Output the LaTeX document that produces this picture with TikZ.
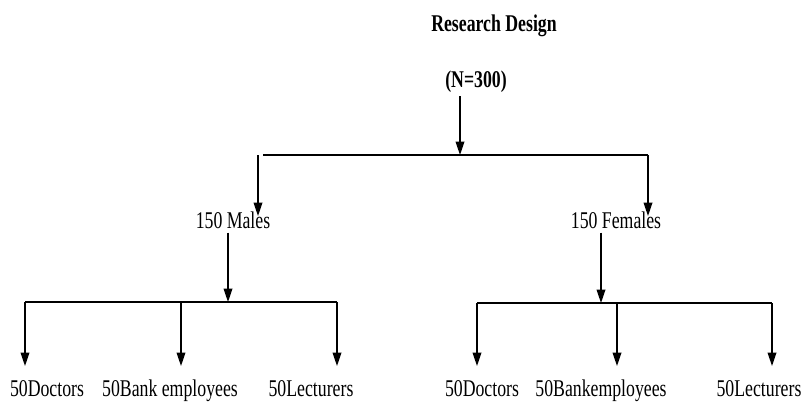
\documentclass[tikz,border=0pt]{standalone}
\usepackage{fontspec}
\setmainfont[FakeStretch=0.74]{Liberation Serif}
\usetikzlibrary{arrows.meta}
\tikzset{
  group/.style={font=\fontsize{18}{20}\selectfont, inner sep=3pt, anchor=base},
  heading/.style={group, font=\fontsize{18}{20}\selectfont\bfseries},
  arr/.style={-{Triangle[length=10pt,width=6.5pt]}, line width=1pt},
  bus/.style={line width=1pt}
}
\begin{document}
\begin{tikzpicture}[x=0.75pt, y=-0.75pt]
\useasboundingbox (0,0) rectangle (802,403);
% Titel und Gesamtstichprobe
\node[heading] (title) at (494,32) {Research Design};
\node[heading] (total) at (476,87) {(N=300)};
% erste Teilung
\coordinate (topL) at (258,155);
\coordinate (topM) at (460,155);
\coordinate (topR) at (648,155);
\draw[arr] (total.south -| topM) -- (topM);
\draw[bus] ([xshift=4pt]topL) -- (topR);
\node[group] (males) at (233,228) {150 Males};
\node[group] (females) at (616,228) {150 Females};
\coordinate (sexlevel) at (0,216);
\draw[arr] (topL) -- (topL |- sexlevel);
\draw[arr] (topR) -- (topR |- sexlevel);
% Männer
\coordinate (mbus) at (228,302);
\draw[arr] (males.south -| mbus) -- (mbus);
\draw[bus] (25,302) -- (337,302);
\node[group] (mdoc) at (47,396) {50Doctors};
\node[group] (mbank) at (170,396) {50Bank employees};
\node[group] (mlec) at (311,396) {50Lecturers};
% Frauen
\coordinate (fbus) at (601,303);
\draw[arr] (females.south -| fbus) -- (fbus);
\draw[bus] (477,303) -- (772,303);
\node[group] (fdoc) at (482,396) {50Doctors};
\node[group] (fbank) at (601,396) {50Bankemployees};
\node[group] (flec) at (759,396) {50Lecturers};
% Berufsgruppen
\coordinate (joblevel) at (0,366);
\foreach \x [count=\i] in {25,181,337} {
  \coordinate (mtop\i) at (\x,302);
  \draw[arr] (mtop\i) -- (mtop\i |- joblevel);
}
\foreach \x [count=\i] in {477,617,772} {
  \coordinate (ftop\i) at (\x,303);
  \draw[arr] (ftop\i) -- (ftop\i |- joblevel);
}
\end{tikzpicture}
\end{document}
